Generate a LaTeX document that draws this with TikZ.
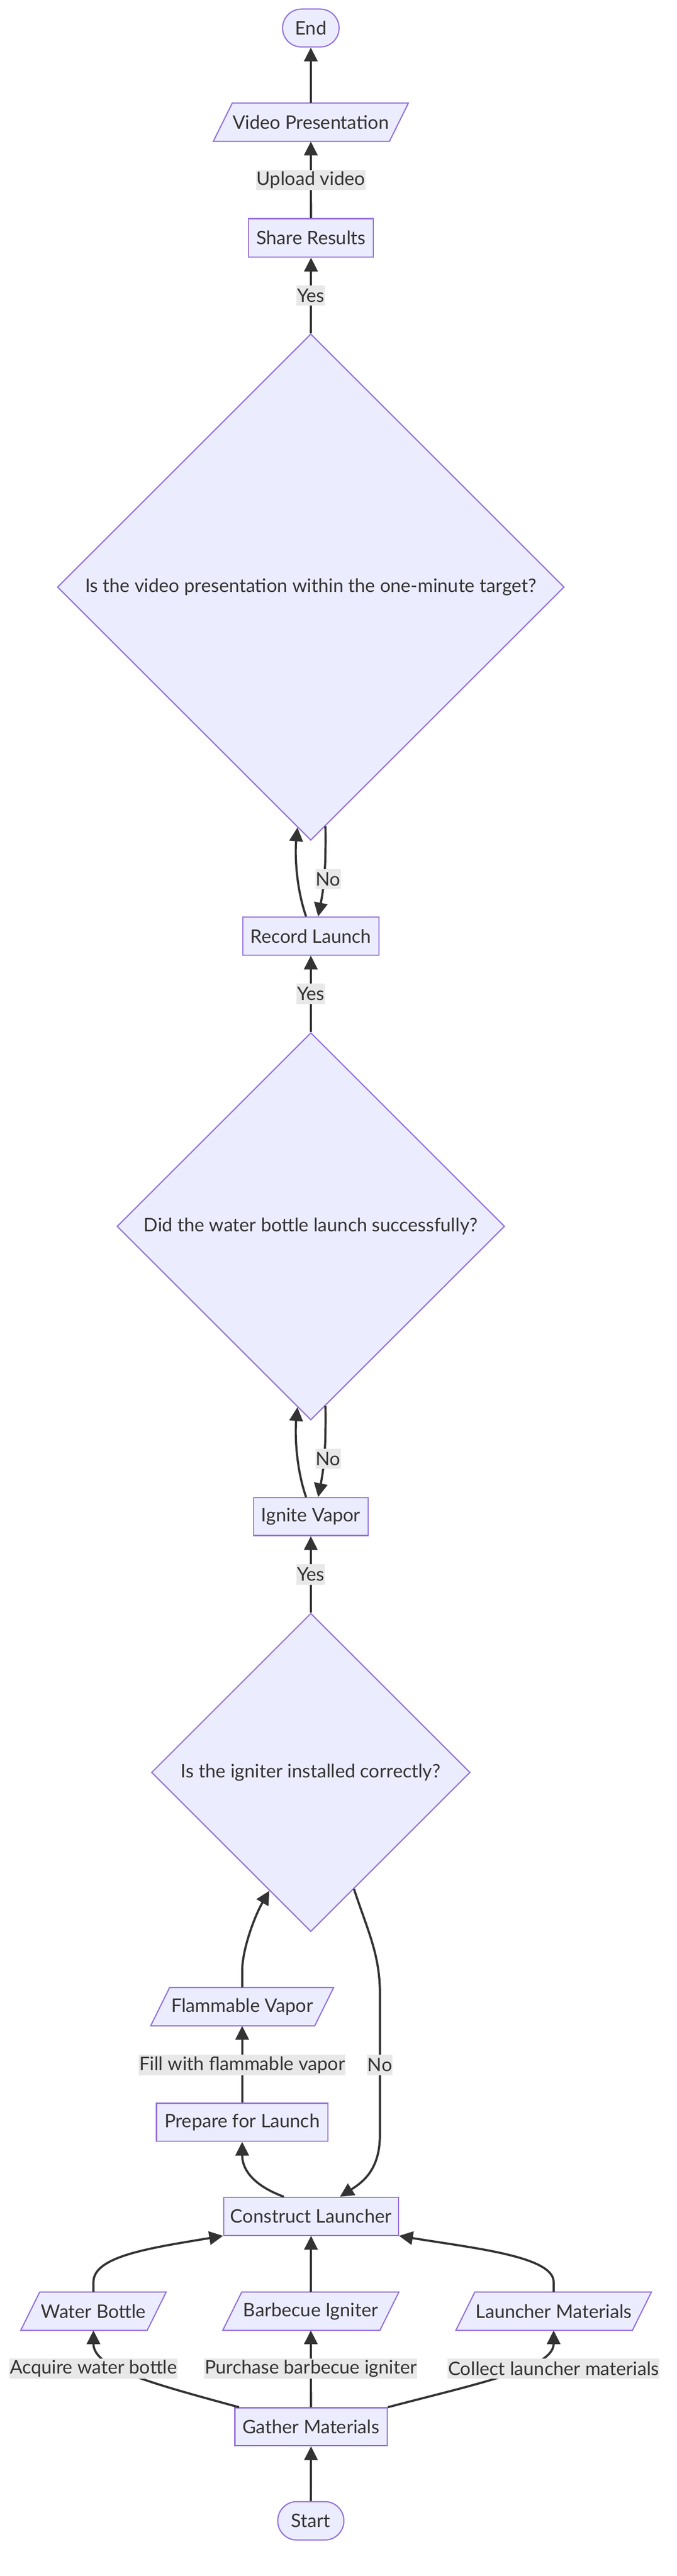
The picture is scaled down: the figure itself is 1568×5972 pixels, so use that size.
\documentclass[tikz,border=0pt]{standalone}
\usepackage{fontspec}
\setmainfont{Lato}
\usetikzlibrary{arrows.meta,shapes.geometric}
\definecolor{nfill}{HTML}{ECECFF}
\definecolor{nline}{HTML}{9370DB}
\definecolor{ecol}{HTML}{333333}
\definecolor{lbg}{HTML}{E8E8E8}
\newcommand\fs{\fontsize{43.2}{52}\selectfont}
\tikzset{
  box/.style={draw=nline, fill=nfill, line width=2.7pt, minimum height=88pt, inner sep=0pt, font=\fs, text=ecol},
  term/.style={box, rounded corners=44pt},
  dia/.style={draw=nline, fill=nfill, line width=2.7pt, shape=diamond, aspect=1, inner sep=0pt, font=\fs, text=ecol},
  parafill/.style={draw=nline, fill=nfill, line width=2.7pt},
  paratext/.style={inner sep=0pt, minimum height=89pt, font=\fs, text=ecol},
  elabel/.style={fill=lbg, inner xsep=1pt, inner ysep=0pt, minimum height=47pt, font=\fs, text=ecol},
  edge/.style={draw=ecol, line width=5pt, -{Triangle[length=32pt,width=31pt]}},
}
% name, x, y, top width, text
\newcommand\paranode[5]{%
  \path[parafill] ({#2-#4/2+22},{#3-44.5}) -- ++(#4,0) -- ++(-44,89) -- ++(-#4,0) -- cycle;
  \node[paratext, minimum width={#4-44}] (#1) at (#2,#3) {#5};
}
\begin{document}
\begin{tikzpicture}[x=1pt,y=-1pt]
\useasboundingbox (0,0) rectangle (1568,5972);
% ---------- nodes
\node[term, minimum width=131pt] (End) at (720,65) {End};
\paranode{VideoP}{720}{283.5}{408}{Video Presentation}
\node[box, minimum width=289pt, minimum height=89pt] (Share) at (720.5,551.5) {Share Results};
\node[dia, minimum width=1174pt, minimum height=1174pt] (D1) at (720,1361) {Is the video presentation within the one-minute target?};
\node[box, minimum width=315pt] (Record) at (720,2170) {Record Launch};
\node[dia, minimum width=898pt, minimum height=898pt] (D2) at (720,2843) {Did the water bottle launch successfully?};
\node[box, minimum width=265pt] (Ignite) at (720,3516) {Ignite Vapor};
\node[dia, minimum width=738pt, minimum height=738pt] (D3) at (720,4109) {Is the igniter installed correctly?};
\paranode{FlamV}{561}{4652}{380}{Flammable Vapor}
\node[box, minimum width=397pt] (Prepare) at (561,4920) {Prepare for Launch};
\node[box, minimum width=405pt] (Construct) at (720.5,5138) {Construct Launcher};
\paranode{Water}{216.5}{5358}{293}{Water Bottle}
\paranode{Barb}{720}{5358}{364}{Barbecue Igniter}
\paranode{Launch}{1282.5}{5358}{409}{Launcher Materials}
\node[box, minimum width=353pt] (Gather) at (720.5,5626) {Gather Materials};
\node[term, minimum width=153pt, minimum height=89pt] (Start) at (720,5844) {Start};
% ---------- edges
\draw[edge] (VideoP.north) -- (End.south);
\draw[edge] (Share.north) -- (VideoP.south);
\draw[edge] (D1.north) -- (Share.south);
\draw[edge] ([xshift=-11pt]Record.north) .. controls +(-23,-66) and +(-6,64) .. ([shift={(-31,-31)}]D1.south);
\draw[edge] ([shift={(34,-34)}]D1.south) .. controls +(1,87) and +(15,-76) .. ([xshift=17pt]Record.north);
\draw[edge] (D2.north) -- (Record.south);
\draw[edge] ([xshift=-11pt]Ignite.north) .. controls +(-23,-66) and +(-6,64) .. ([shift={(-31,-31)}]D2.south);
\draw[edge] ([shift={(34,-34)}]D2.south) .. controls +(1,87) and +(15,-76) .. ([xshift=17pt]Ignite.north);
\draw[edge] (D3.north) -- (Ignite.south);
\draw[edge] (FlamV.north) -- ++(0,-38) .. controls +(0,-50) and +(-34,58) .. ([shift={(-96,-96)}]D3.south);
\draw[edge] (Prepare.north) -- (FlamV.south);
\draw[edge] ([shift={(100,-100)}]D3.south) .. controls +(30,92) and +(0,-90) .. (880,4620) -- (880,4950) .. controls +(0,80) and +(53,-34) .. ([xshift=67pt]Construct.north);
\draw[edge] ([xshift=-63pt]Construct.north) .. controls +(-92,-34) and +(0,46) .. (Prepare.south);
\draw[edge] (Water.north) -- ++(0,-23) .. controls +(0,-60) and +(-168,28) .. (Construct.south west);
\draw[edge] (Barb.north) -- (Construct.south);
\draw[edge] (Launch.north) -- ++(0,-23) .. controls +(0,-60) and +(168,28) .. (Construct.south east);
\draw[edge] ([xshift=11pt]Gather.north west) .. controls +(-205,-56) and +(0,87) .. (Water.south);
\draw[edge] (Gather.north) -- (Barb.south);
\draw[edge] (Gather.north east) .. controls +(213,-56) and +(0,87) .. (Launch.south);
\draw[edge] (Start.north) -- (Gather.south);
% ---------- edge labels
\node[elabel] (lUpload) at (720,417.5) {Upload video};
\node[elabel] (lYes1) at (720,685) {Yes};
\node[elabel] (lNo1) at (760,2038) {No};
\node[elabel] (lYes2) at (720,2304) {Yes};
\node[elabel] (lNo2) at (760,3382) {No};
\node[elabel] (lYes3) at (720,3650) {Yes};
\node[elabel] (lFill) at (561,4787) {Fill with flammable vapor};
\node[elabel] (lNo3) at (880,4787) {No};
\node[elabel] (lAcq) at (216.5,5491) {Acquire water bottle};
\node[elabel] (lPur) at (720,5491) {Purchase barbecue igniter};
\node[elabel] (lCol) at (1282.5,5491) {Collect launcher materials};
\end{tikzpicture}
\end{document}
